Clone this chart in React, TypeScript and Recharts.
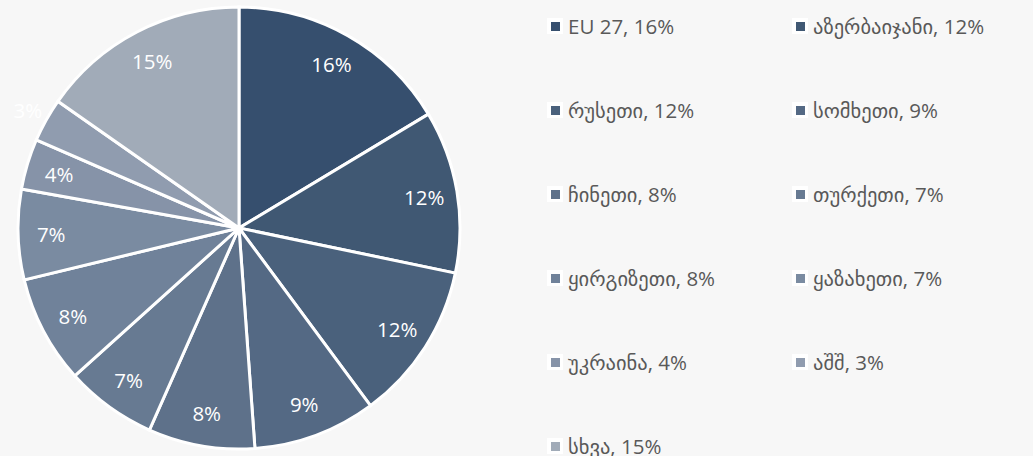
import React from "react";
import { PieChart, Pie, Cell, Legend } from "recharts";

const countries = [
	"EU 27",
	"აზერბაიჯანი",
	"რუსეთი",
	"სომხეთი",
	"ჩინეთი",
	"თურქეთი",
	"ყირგიზეთი",
	"ყაზახეთი",
	"უკრაინა",
	"აშშ",
	"სხვა",
];
const shares = [16.4, 11.9, 11.6, 9.0, 7.8, 6.7, 7.9, 6.6, 3.7, 3.2, 15.3];
const shareLabels = [16, 12, 12, 9, 8, 7, 8, 7, 4, 3, 15];

const COLORS = [
	"#364f6e",
	"#405873",
	"#4a617c",
	"#546984",
	"#5e718a",
	"#677a92",
	"#70829a",
	"#7a8ba1",
	"#8693a8",
	"#909caf",
	"#a1abb8",
];

const FONT = "'Open Sans', 'DejaVu Sans', sans-serif";

export default function App() {
	const data = countries.map((name, i) => ({
		name,
		value: shares[i],
		label: shareLabels[i],
	}));

	const RADIAN = Math.PI / 180;
	const renderLabel = ({ cx, cy, midAngle, outerRadius, payload }: any) => {
		const r = payload.label <= 3 ? outerRadius + 21 : outerRadius * 0.85;
		const x = cx + r * Math.cos(-midAngle * RADIAN);
		const y = cy + r * Math.sin(-midAngle * RADIAN);
		return (
			<text
				x={x}
				y={y}
				fill="#ffffff"
				fontSize={20.5}
				fontFamily={FONT}
				textAnchor="middle"
				dominantBaseline="central">
				{`${payload.label}%`}
			</text>
		);
	};

	const renderLegend = () => (
		<div style={{ position: "relative", width: 490, height: 456 }}>
			{data.map((d, i) => {
				const col = i % 2;
				const row = Math.floor(i / 2);
				return (
					<div
						key={`leg-${i}`}
						style={{
							position: "absolute",
							left: col * 245,
							top: 13 + row * 84,
							height: 26,
							display: "flex",
							alignItems: "center",
							whiteSpace: "nowrap",
							fontFamily: FONT,
							fontSize: 20.5,
							color: "#595959",
						}}>
						<span
							style={{
								width: 16,
								height: 16,
								background: "#ffffff",
								display: "inline-flex",
								alignItems: "center",
								justifyContent: "center",
								marginRight: 5,
							}}>
							<span
								style={{
									width: 9,
									height: 9,
									background: COLORS[i],
									display: "block",
								}}
							/>
						</span>
						{`${d.name}, ${d.label}%`}
					</div>
				);
			})}
		</div>
	);

	return (
		<div
			style={{
				position: "absolute",
				left: 0,
				top: 0,
				width: 1033,
				height: 456,
				background: "#f7f7f7",
			}}>
			<PieChart
				width={1033}
				height={456}
				margin={{ top: 0, right: 0, bottom: 0, left: 0 }}>
				<Pie
					data={data}
					dataKey="value"
					nameKey="name"
					cx={239}
					cy={228}
					outerRadius={221}
					startAngle={90}
					endAngle={-270}
					stroke="#ffffff"
					strokeWidth={3}
					labelLine={false}
					label={renderLabel}
					isAnimationActive={false}>
					{data.map((entry, index) => (
						<Cell key={`cell-${index}`} fill={COLORS[index]} />
					))}
				</Pie>
				<Legend
					content={renderLegend}
					wrapperStyle={{ position: "absolute", left: 547, top: 0, width: 490 }}
				/>
			</PieChart>
		</div>
	);
}
